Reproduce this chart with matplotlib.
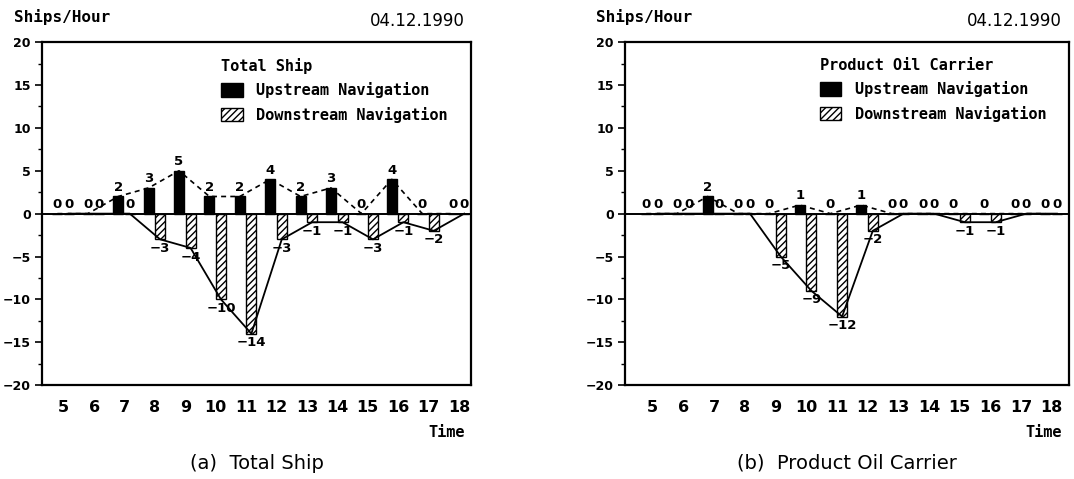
import matplotlib
matplotlib.use("Agg")
import matplotlib.pyplot as plt
from matplotlib.patches import Patch
from matplotlib.ticker import MultipleLocator

## hourly ship counts
hours = [5, 6, 7, 8, 9, 10, 11, 12, 13, 14, 15, 16, 17, 18]

total_up = [0, 0, 2, 3, 5, 2, 2, 4, 2, 3, 0, 4, 0, 0]
total_down = [0, 0, 0, -3, -4, -10, -14, -3, -1, -1, -3, -1, -2, 0]

oil_up = [0, 0, 2, 0, 0, 1, 0, 1, 0, 0, 0, 0, 0, 0]
oil_down = [0, 0, 0, 0, -5, -9, -12, -2, 0, 0, -1, -1, 0, 0]

panel_titles = ["Total Ship", "Product Oil Carrier"]
captions = ["(a)  Total Ship", "(b)  Product Oil Carrier"]
series_names = ["Upstream Navigation", "Downstream Navigation"]

narrow = ["Liberation Sans Narrow", "DejaVu Sans"]
mono = ["DejaVu Sans Mono"]

plt.rcParams["hatch.linewidth"] = 1.0

fig = plt.figure(figsize=(10.74, 4.79), dpi=100)

## axes boxes placed to match the scan
boxes = [[0.0390, 0.196, 0.400, 0.716], [0.582, 0.196, 0.413, 0.716]]
xlims = [(4.28, 18.41), (4.10, 18.55)]
leg_anchor = [(0.97, 0.985), (0.975, 0.985)]
data = [(total_up, total_down), (oil_up, oil_down)]

w = 0.33
off_up = -0.21
off_down = 0.17

for i in range(2):
    ax = fig.add_axes(boxes[i])
    up, down = data[i]
    xu = [h + off_up for h in hours]
    xd = [h + off_down for h in hours]

    ax.bar(xu, up, width=w, color="black", edgecolor="black", zorder=3)
    ax.bar(xd, down, width=w, color="white", edgecolor="black",
           hatch="/////", linewidth=1.0, zorder=3)

    ax.plot(xu, up, color="black", lw=1.2, ls=(0, (3, 2.5)), zorder=4)
    ax.plot(xd, down, color="black", lw=1.3, zorder=4)

    ax.axhline(0, color="black", lw=1.4, zorder=5)

    ## value labels
    for x, v in zip(xu, up):
        ax.text(x, v + 0.3, str(v), ha="center", va="bottom", fontsize=9.5,
                fontweight="bold", family=narrow, zorder=6)
    for x, v in zip(xd, down):
        if v < 0:
            ax.text(x, v - 0.3, "\u2212" + str(-v), ha="center", va="top",
                    fontsize=9.5, fontweight="bold", family=narrow, zorder=6)
        else:
            ax.text(x, 0.3, str(v), ha="center", va="bottom", fontsize=9.5,
                    fontweight="bold", family=narrow, zorder=6)

    ax.set_xlim(*xlims[i])
    ax.set_ylim(-20, 20)
    ax.set_xticks(hours)
    ax.set_xticklabels([str(h) for h in hours], fontweight="bold", family=narrow, fontsize=11.5)
    ax.tick_params(axis="x", length=0, pad=11)
    ax.yaxis.set_major_locator(MultipleLocator(5))
    ax.yaxis.set_minor_locator(MultipleLocator(2.5))
    ax.set_yticks(range(-20, 21, 5))
    ax.set_yticklabels([str(t).replace("-", "\u2212") for t in range(-20, 21, 5)],
                       fontweight="bold", family=narrow, fontsize=9)
    ax.tick_params(axis="y", which="major", length=5, width=1.2, direction="out", pad=3)
    ax.tick_params(axis="y", which="minor", length=3, width=1.0, direction="out")
    for s in ax.spines.values():
        s.set_linewidth(1.6)

    handles = [Patch(facecolor="black", edgecolor="black", label=series_names[0]),
               Patch(facecolor="white", edgecolor="black", hatch="/////", label=series_names[1])]
    leg = ax.legend(handles=handles, title=panel_titles[i], loc="upper right",
                    bbox_to_anchor=leg_anchor[i], frameon=False,
                    prop={"family": mono, "weight": "bold", "size": 11},
                    title_fontproperties={"family": mono, "weight": "bold", "size": 11},
                    handlelength=1.4, handleheight=1.0, handletextpad=0.9,
                    labelspacing=0.55, borderaxespad=0.3)
    leg._legend_box.align = "left"

    ax.text(-0.065, 1.05, "Ships/Hour", transform=ax.transAxes, ha="left", va="bottom",
            fontsize=11.5, fontweight="bold", family=mono)
    ax.text(0.985, 1.035, "04.12.1990", transform=ax.transAxes, ha="right", va="bottom",
            fontsize=12, family=narrow)
    ax.text(0.985, -0.115, "Time", transform=ax.transAxes, ha="right", va="top",
            fontsize=11, fontweight="bold", family=mono)
    ax.text(0.5, -0.2, captions[i], transform=ax.transAxes, ha="center", va="top",
            fontsize=14)

plt.savefig("out.png", dpi=100)
plt.close()
